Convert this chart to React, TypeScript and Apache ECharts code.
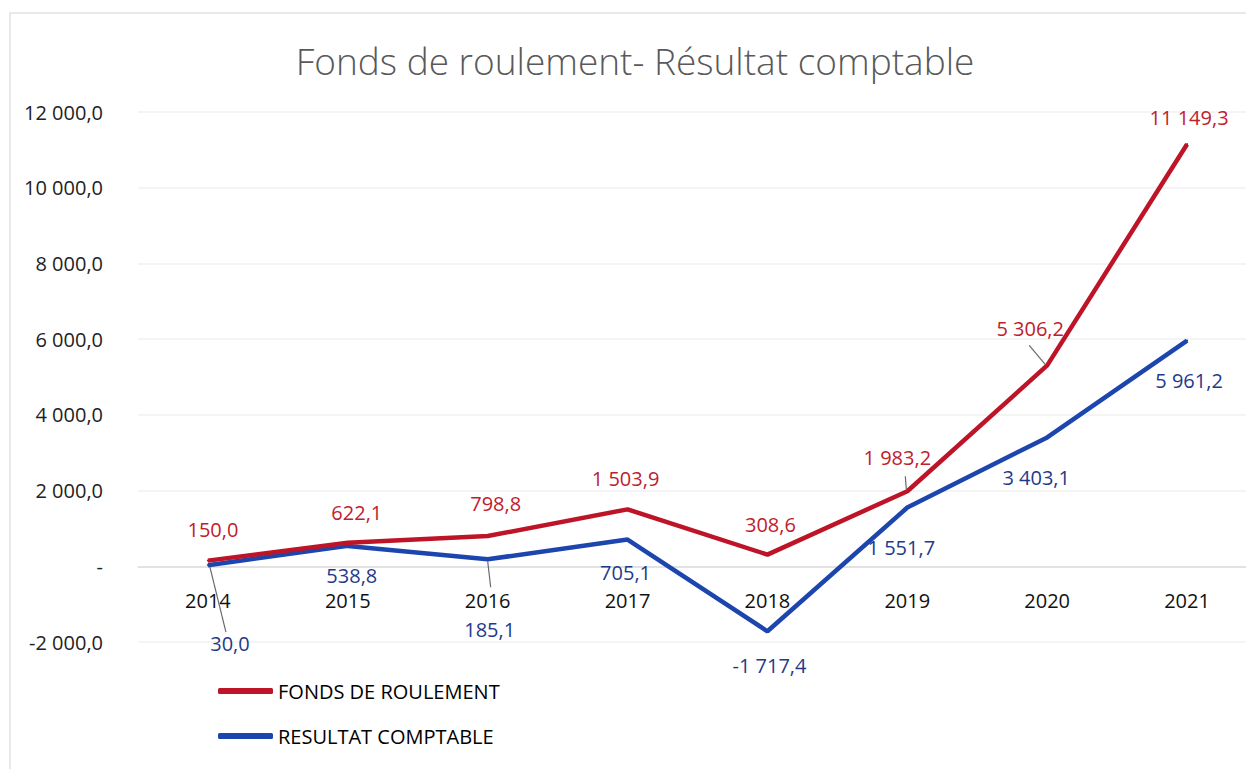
import React, { useEffect, useRef } from "react";
import * as echarts from "echarts";

const categories = ["2014", "2015", "2016", "2017", "2018", "2019", "2020", "2021"];
const fondsDeRoulement = [150.0, 622.1, 798.8, 1503.9, 308.6, 1983.2, 5306.2, 11149.3];
const resultatComptable = [30.0, 538.8, 185.1, 705.1, -1717.4, 1551.7, 3403.1, 5961.2];
const seriesNames = ["FONDS DE ROULEMENT", "RESULTAT COMPTABLE"];
const titleText = "Fonds de roulement- Résultat comptable";
const yMin = -2000;
const yMax = 12000;
const yStep = 2000;

// label placement (layout only): offset of label centre from its point
const redOffsets = [[5, -31], [9, -30], [8, -33], [-2, -31], [3, -30], [-10, -34], [-17, -37], [2, -27]];
const blueOffsets = [[22, 78], [4, 30], [2, 70], [-2, 33], [2, 34], [-6, 40], [-11, 40], [2, 40]];
// leader lines (layout only): [dx1, dy1, dx2, dy2] from the point, or null
const redLeaders: (number[] | null)[] = [null, null, null, null, null, [-1, -2, -2, -15], [-2, -1, -18, -20], null];
const blueLeaders: (number[] | null)[] = [[2, 2, 18, 67], null, [0, 2, 3, 28], null, null, null, null, null];

const FONT = "'Open Sans', 'Liberation Sans', sans-serif";
const GRID_LEFT = 138;
const GRID_TOP = 112;
const GRID_BOTTOM = 127;
const H = 769;

function fmt(v: number): string {
  if (v === 0) return "-";
  const parts = Math.abs(v).toFixed(1).split(".");
  const intPart = parts[0].replace(/\B(?=(\d{3})+(?!\d))/g, " ");
  return (v < 0 ? "-" : "") + intPart + "," + parts[1];
}

export default function App() {
  const ref = useRef<HTMLDivElement>(null);
  useEffect(() => {
    if (!ref.current) return;
    const chart = echarts.init(ref.current, undefined, { renderer: "svg" });
    const gridH = H - GRID_TOP - GRID_BOTTOM;
    const zeroOffset = -((0 - yMin) / (yMax - yMin)) * gridH;
    const mkLayout = (offs: number[][]) => (params: any) => {
      const r = params.rect;
      const o = offs[params.dataIndex];
      return {
        x: r.x + r.width / 2 + o[0],
        y: r.y + r.height / 2 + o[1],
        align: "center",
        verticalAlign: "middle",
      };
    };
    const mkSeries = (name: string, vals: number[], lineColor: string, labelColor: string, offs: number[][], z: number) => ({
      name,
      type: "line",
      data: vals,
      symbol: "circle",
      symbolSize: 2,
      color: lineColor,
      lineStyle: { width: 4.5, color: lineColor },
      itemStyle: { color: lineColor },
      z,
      label: {
        show: true,
        position: "inside",
        fontFamily: FONT,
        fontSize: 20,
        lineHeight: 20,
        color: labelColor,
        formatter: (p: any) => fmt(p.value),
      },
      labelLayout: mkLayout(offs),
    });
    chart.setOption({
      animation: false,
      backgroundColor: "#ffffff",
      title: {
        text: titleText,
        left: 630,
        top: 37,
        textAlign: "center",
        textStyle: { fontFamily: FONT, fontSize: 37, fontWeight: 300, color: "#595959" },
      },
      legend: {
        orient: "vertical",
        left: 213,
        top: 676,
        itemGap: 25,
        itemWidth: 55,
        itemHeight: 6,
        itemTextGap: 3,
        icon: "roundRect",
        textStyle: { fontFamily: FONT, fontSize: 20, color: "#000" },
        data: seriesNames,
      },
      grid: { left: GRID_LEFT, width: 1119, top: GRID_TOP, bottom: GRID_BOTTOM, outerBoundsMode: "none", containLabel: false },
      xAxis: {
        type: "category",
        data: categories,
        boundaryGap: true,
        offset: zeroOffset,
        axisLine: { onZero: false, lineStyle: { color: "#dcdcdc", width: 1.5 } },
        axisTick: { show: false },
        axisLabel: { margin: 24, fontFamily: FONT, fontSize: 20, lineHeight: 20, color: "#111" },
      },
      yAxis: {
        type: "value",
        min: yMin,
        max: yMax,
        interval: yStep,
        axisLine: { show: false },
        axisTick: { show: false },
        splitLine: { lineStyle: { color: "#f0f0f0", width: 1.5 } },
        axisLabel: { margin: 35, fontFamily: FONT, fontSize: 20, color: "#222", formatter: (v: number) => fmt(v) },
      },
      series: [
        mkSeries(seriesNames[0], fondsDeRoulement, "#BE1427", "#C0202C", redOffsets, 3),
        mkSeries(seriesNames[1], resultatComptable, "#1D45AE", "#1F3A8A", blueOffsets, 2),
      ],
    });

    // chart frame + leader lines
    const graphics: any[] = [
      { type: "polyline", shape: { points: [[10, 769], [10, 13], [1246, 13]] }, style: { stroke: "#e2e2e8", fill: null, lineWidth: 1.5 }, silent: true },
    ];
    const addLeaders = (vals: number[], leaders: (number[] | null)[]) => {
      vals.forEach((v, i) => {
        const l = leaders[i];
        if (!l) return;
        const p = chart.convertToPixel({ gridIndex: 0 }, [i, v]) as number[];
        graphics.push({
          type: "line",
          shape: { x1: p[0] + l[0], y1: p[1] + l[1], x2: p[0] + l[2], y2: p[1] + l[3] },
          style: { stroke: "#6a6a6a", lineWidth: 1.2 },
          z: 10,
          silent: true,
        });
      });
    };
    addLeaders(fondsDeRoulement, redLeaders);
    addLeaders(resultatComptable, blueLeaders);
    chart.setOption({ graphic: graphics });
    return () => chart.dispose();
  }, []);
  return (
    <div
      ref={ref}
      style={{ position: "absolute", left: 0, top: 0, width: 1246, height: 769, background: "#fff" }}
    />
  );
}
